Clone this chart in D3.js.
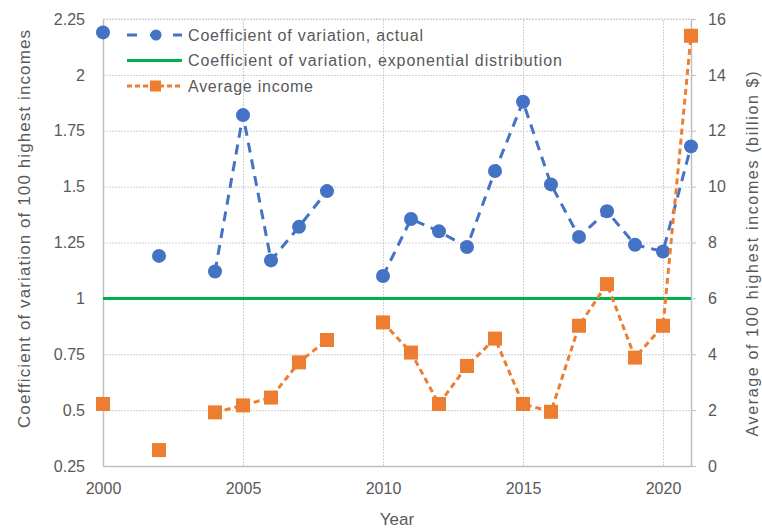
<!DOCTYPE html>
<html>
<head>
<meta charset="utf-8">
<script src="https://cdn.jsdelivr.net/npm/d3@7"></script>
<style>
	body { margin: 0; background: #fff; }
	text { font-family: "Liberation Sans", Arial, sans-serif; fill: #595959; }
</style>
</head>
<body>
<script>
// data
const years = [2000, 2001, 2002, 2003, 2004, 2005, 2006, 2007, 2008, 2009, 2010,
	2011, 2012, 2013, 2014, 2015, 2016, 2017, 2018, 2019, 2020, 2021];
const cvActual = [2.19, null, 1.19, null, 1.12, 1.82, 1.17, 1.32, 1.48, null, 1.10,
	1.355, 1.30, 1.23, 1.57, 1.88, 1.51, 1.275, 1.39, 1.24, 1.21, 1.68];
const cvExponential = [1, 1, 1, 1, 1, 1, 1, 1, 1, 1, 1,
	1, 1, 1, 1, 1, 1, 1, 1, 1, 1, 1];
const avgIncome = [2.22, null, 0.57, null, 1.92, 2.17, 2.45, 3.71, 4.51, null, 5.14,
	4.06, 2.22, 3.58, 4.56, 2.22, 1.94, 5.02, 6.51, 3.88, 5.02, 15.4];
const leftTicks = [0.25, 0.5, 0.75, 1, 1.25, 1.5, 1.75, 2, 2.25];
const rightTicks = [0, 2, 4, 6, 8, 10, 12, 14, 16];
const xTicks = [2000, 2005, 2010, 2015, 2020];
const seriesNames = ["Coefficient of variation, actual",
	"Coefficient of variation, exponential distribution", "Average income"];

const width = 762, height = 528;
const plotLeft = 103, plotRight = 691, plotTop = 19, plotBottom = 466;
const blue = "#4472C4", green = "#00B050", orange = "#ED7D31";
// widths the legend labels take in the reference
const legendTextWidths = [235, 374, 125];

let svg = d3.select("body").append("svg")
	.attr("width", width)
	.attr("height", height);

let x = d3.scaleLinear().domain([2000, 2021]).range([plotLeft, plotRight]);
let yLeft = d3.scaleLinear().domain([0.25, 2.25]).range([plotBottom, plotTop]);
let yRight = d3.scaleLinear().domain([0, 16]).range([plotBottom, plotTop]);

// gridlines
svg.append("g")
	.attr("transform", "translate(" + plotLeft + ",0)")
	.call(d3.axisLeft(yLeft).tickValues(leftTicks).tickSize(-(plotRight - plotLeft)).tickFormat(""))
	.call(g => g.select(".domain").remove())
	.call(g => g.selectAll("line").attr("stroke", "#d0d0d0").attr("stroke-dasharray", "2,1"));
svg.append("g")
	.attr("transform", "translate(0," + plotBottom + ")")
	.call(d3.axisBottom(x).tickValues(xTicks).tickSize(-(plotBottom - plotTop)).tickFormat(""))
	.call(g => g.select(".domain").remove())
	.call(g => g.selectAll("line").attr("stroke", "#d0d0d0").attr("stroke-dasharray", "2,1"));

// left axis
svg.append("g")
	.attr("transform", "translate(" + plotLeft + ",0)")
	.call(d3.axisLeft(yLeft).tickValues(leftTicks).tickSize(0).tickPadding(18).tickFormat(d => String(d)))
	.call(g => g.select(".domain").attr("stroke", "#bfbfbf").attr("stroke-width", 1.5))
	.call(g => g.selectAll("text").style("font-size", "16px").attr("font-family", null).attr("fill", null));

// bottom axis
svg.append("g")
	.attr("transform", "translate(0," + plotBottom + ")")
	.call(d3.axisBottom(x).tickValues(xTicks).tickSize(0).tickPadding(17).tickFormat(d => String(d)))
	.call(g => g.select(".domain").attr("stroke", "#bfbfbf").attr("stroke-width", 1.5))
	.call(g => g.selectAll("text").style("font-size", "16px").attr("font-family", null).attr("fill", null));

// right axis
svg.append("g")
	.attr("transform", "translate(" + plotRight + ",0)")
	.call(d3.axisRight(yRight).tickValues(rightTicks).tickSize(5).tickSizeOuter(0).tickPadding(12).tickFormat(d => String(d)))
	.call(g => g.select(".domain").attr("stroke", "#bfbfbf").attr("stroke-width", 1.5))
	.call(g => g.selectAll("line").attr("stroke", "#bfbfbf"))
	.call(g => g.selectAll("text").style("font-size", "16px").attr("font-family", null).attr("fill", null));

// top border
svg.append("line")
	.attr("x1", plotLeft).attr("x2", plotRight)
	.attr("y1", plotTop).attr("y2", plotTop)
	.attr("stroke", "#d0d0d0")
	.attr("stroke-dasharray", "2,1");

// axis titles
svg.append("text")
	.attr("transform", "translate(30,229) rotate(-90)")
	.attr("text-anchor", "middle")
	.attr("textLength", 398)
	.attr("lengthAdjust", "spacing")
	.style("font-size", "17px")
	.text("Coefficient of variation of 100 highest incomes");
svg.append("text")
	.attr("transform", "translate(758,254) rotate(-90)")
	.attr("text-anchor", "middle")
	.attr("textLength", 365)
	.attr("lengthAdjust", "spacing")
	.style("font-size", "16px")
	.text("Average of 100 highest incomes (billion $)");
svg.append("text")
	.attr("x", (plotLeft + plotRight) / 2)
	.attr("y", 525)
	.attr("text-anchor", "middle")
	.style("font-size", "17px")
	.text("Year");

let cvData = years.map((d, i) => ({ year: d, v: cvActual[i] }));
let expData = years.map((d, i) => ({ year: d, v: cvExponential[i] }));
let incData = years.map((d, i) => ({ year: d, v: avgIncome[i] }));

let lineLeft = d3.line()
	.defined(d => d.v != null)
	.x(d => x(d.year))
	.y(d => yLeft(d.v));
let lineRight = d3.line()
	.defined(d => d.v != null)
	.x(d => x(d.year))
	.y(d => yRight(d.v));

// actual CV
svg.append("path")
	.datum(cvData)
	.attr("d", lineLeft)
	.attr("fill", "none")
	.attr("stroke", blue)
	.attr("stroke-width", 3)
	.attr("stroke-dasharray", "10,7");
svg.selectAll(".cv")
	.data(cvData.filter(d => d.v != null))
	.enter()
	.append("circle")
	.attr("class", "cv")
	.attr("cx", d => x(d.year))
	.attr("cy", d => yLeft(d.v))
	.attr("r", 7)
	.attr("fill", blue);

// exponential distribution CV
svg.append("path")
	.datum(expData)
	.attr("d", lineLeft)
	.attr("fill", "none")
	.attr("stroke", green)
	.attr("stroke-width", 3);

// average income
svg.append("path")
	.datum(incData)
	.attr("d", lineRight)
	.attr("fill", "none")
	.attr("stroke", orange)
	.attr("stroke-width", 3)
	.attr("stroke-dasharray", "6,4");
svg.selectAll(".inc")
	.data(incData.filter(d => d.v != null))
	.enter()
	.append("rect")
	.attr("class", "inc")
	.attr("x", d => x(d.year) - 7)
	.attr("y", d => yRight(d.v) - 7)
	.attr("width", 14)
	.attr("height", 14)
	.attr("fill", orange);

// legend
let legend = svg.append("g").attr("transform", "translate(127,35)");
let rowGap = 25.5;
legend.append("line")
	.attr("x1", 0).attr("x2", 55).attr("y1", 0).attr("y2", 0)
	.attr("stroke", blue).attr("stroke-width", 3).attr("stroke-dasharray", "10,13");
legend.append("circle").attr("cx", 29).attr("cy", 0).attr("r", 5.5).attr("fill", blue);
legend.append("line")
	.attr("x1", 0).attr("x2", 55).attr("y1", rowGap).attr("y2", rowGap)
	.attr("stroke", green).attr("stroke-width", 3);
legend.append("line")
	.attr("x1", 0).attr("x2", 55).attr("y1", rowGap * 2).attr("y2", rowGap * 2)
	.attr("stroke", orange).attr("stroke-width", 3).attr("stroke-dasharray", "5,3");
legend.append("rect").attr("x", 23).attr("y", rowGap * 2 - 5.5).attr("width", 11).attr("height", 11).attr("fill", orange);
legend.selectAll(".lbl")
	.data(seriesNames)
	.enter()
	.append("text")
	.attr("class", "lbl")
	.attr("x", 61)
	.attr("y", (d, i) => i * rowGap)
	.attr("dy", "0.35em")
	.attr("textLength", (d, i) => legendTextWidths[i])
	.attr("lengthAdjust", "spacing")
	.style("font-size", "16px")
	.text(d => d);
</script>
</body>
</html>
